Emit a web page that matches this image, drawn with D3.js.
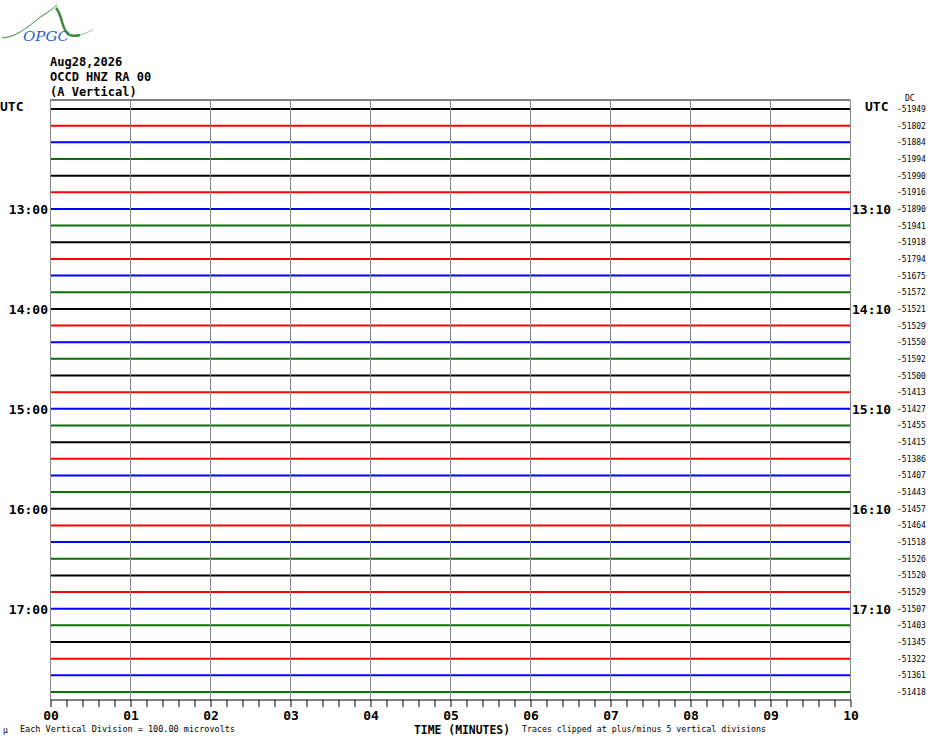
<!DOCTYPE html>
<html lang="en">
<head>
  <meta charset="UTF-8">
  <title>OCCD HNZ helicorder</title>
  <style>
    body { margin: 0; background: #fff; }
    svg { display: block; }
    .mono { font-family: "DejaVu Sans Mono", "Liberation Mono", monospace; }
    .hour { font-family: "DejaVu Sans Mono", monospace; font-weight: bold; font-size: 13px; }
    .small { font-family: "DejaVu Sans Mono", monospace; font-size: 8px; }
  </style>
</head>
<body>
  <div id="chart"></div>
  <script src="https://d3js.org/d3.v7.min.js"></script>
  <script>
    // one trace per 10 minutes, starting 12:00 UTC
    const traceColors = ["#000000", "#ff0000", "#0000ff", "#0a700a"];
    const dcValues = [
      -51949, -51802, -51884, -51994, -51990, -51916,
      -51890, -51941, -51918, -51794, -51675, -51572,
      -51521, -51529, -51550, -51592, -51500, -51413,
      -51427, -51455, -51415, -51386, -51407, -51443,
      -51457, -51464, -51518, -51526, -51520, -51529,
      -51507, -51403, -51345, -51322, -51361, -51418
    ];
    const hourLabelsLeft = ["13:00", "14:00", "15:00", "16:00", "17:00"];
    const hourLabelsRight = ["13:10", "14:10", "15:10", "16:10", "17:10"];
    const minuteLabels = ["00", "01", "02", "03", "04", "05", "06", "07", "08", "09", "10"];
    const headerLines = ["Aug28,2026", "OCCD HNZ RA 00", "(A Vertical)"];

    const width = 930, height = 744;
    const svg = d3.select("#chart").append("svg")
      .attr("width", width)
      .attr("height", height);

    const x = d3.scaleLinear().domain([0, 10]).range([50, 850]);
    const y = d3.scaleLinear().domain([0, dcValues.length - 1]).range([109, 692]);
    const plotTop = 100, plotBottom = 700;

    // logo
    const logo = svg.append("g");
    logo.append("path")
      .attr("d", "M2,38 C20,37 32,22 45,14 C51,10 55,7 57,5")
      .attr("fill", "none").attr("stroke", "#3a8a3a").attr("stroke-width", 1);
    logo.append("path")
      .attr("d", "M56,8 C62,14 62,30 68,34 C72,37 76,36 80,35")
      .attr("fill", "none").attr("stroke", "#3a8a3a").attr("stroke-width", 2.5);
    logo.append("path")
      .attr("d", "M80,35 C84,34 88,32 93,30")
      .attr("fill", "none").attr("stroke", "#9cc79c").attr("stroke-width", 1);
    logo.append("text")
      .attr("x", 23).attr("y", 41)
      .attr("font-family", "DejaVu Serif, serif")
      .attr("font-style", "italic")
      .attr("font-size", 13)
      .attr("fill", "#2b5fd9")
      .attr("textLength", 46)
      .attr("lengthAdjust", "spacingAndGlyphs")
      .text("OPGC");

    // header
    svg.append("g").selectAll("text")
      .data(headerLines)
      .join("text")
      .attr("class", "mono")
      .attr("x", 50)
      .attr("y", (d, i) => 66 + i * 15)
      .attr("font-size", 12)
      .attr("font-weight", "bold")
      .text(d => d);

    // traces (drawn flat at their DC offset)
    svg.append("g").selectAll("line")
      .data(dcValues)
      .join("line")
      .attr("x1", x(0)).attr("x2", x(10))
      .attr("y1", (d, i) => y(i)).attr("y2", (d, i) => y(i))
      .attr("stroke", (d, i) => traceColors[i % 4])
      .attr("stroke-width", 2);

    // top border
    svg.append("line")
      .attr("x1", x(0)).attr("x2", x(10))
      .attr("y1", plotTop).attr("y2", plotTop)
      .attr("stroke", "#000").attr("stroke-width", 1);

    // minute grid
    svg.append("g").selectAll("line")
      .data(d3.range(0, 11))
      .join("line")
      .attr("x1", d => x(d) + 0.5).attr("x2", d => x(d) + 0.5)
      .attr("y1", plotTop).attr("y2", plotBottom)
      .attr("stroke", "#888").attr("stroke-width", 1);

    // bottom axis
    const axis = d3.axisBottom(x)
      .tickValues(d3.range(0, 10.01, 0.2))
      .tickSize(7)
      .tickFormat("");
    const ax = svg.append("g")
      .attr("transform", `translate(0.5,${plotBottom})`)
      .call(axis);
    ax.select(".domain").attr("stroke", "#000").attr("d", `M${x(0)},0H${x(10)}`);
    ax.selectAll(".tick line").attr("stroke", "#000");

    svg.append("g").selectAll("text")
      .data(minuteLabels)
      .join("text")
      .attr("class", "hour")
      .attr("x", (d, i) => x(i) + 1)
      .attr("y", 720)
      .attr("font-size", 12)
      .attr("text-anchor", "middle")
      .text(d => d);

    // UTC labels
    svg.append("text").attr("class", "hour").attr("x", 0).attr("y", 111).attr("font-size", 12).text("UTC");
    svg.append("text").attr("class", "hour").attr("x", 865).attr("y", 111).attr("font-size", 12).text("UTC");
    svg.append("text").attr("class", "small").attr("x", 905).attr("y", 101).attr("font-size", 7).text("DC");

    svg.append("g").selectAll("text")
      .data(hourLabelsLeft)
      .join("text")
      .attr("class", "hour")
      .attr("x", 48)
      .attr("y", (d, i) => y(6 + i * 6) + 5)
      .attr("text-anchor", "end")
      .text(d => d);

    svg.append("g").selectAll("text")
      .data(hourLabelsRight)
      .join("text")
      .attr("class", "hour")
      .attr("x", 852)
      .attr("y", (d, i) => y(6 + i * 6) + 5)
      .text(d => d);

    // DC values on the right
    svg.append("g").selectAll("text")
      .data(dcValues)
      .join("text")
      .attr("class", "small")
      .attr("x", 897)
      .attr("y", (d, i) => y(i) + 3)
      .text(d => "-" + Math.abs(d));

    // footer
    svg.append("text").attr("class", "small").attr("x", 3).attr("y", 733).attr("font-size", 6).text("\u00b5");
    svg.append("text").attr("class", "small").attr("x", 20).attr("y", 732)
      .attr("textLength", 215).attr("lengthAdjust", "spacingAndGlyphs")
      .text("Each Vertical Division =  100.00 microvolts");
    svg.append("text").attr("class", "hour").attr("x", 414).attr("y", 734).attr("font-size", 11)
      .attr("textLength", 96).attr("lengthAdjust", "spacingAndGlyphs")
      .text("TIME (MINUTES)");
    svg.append("text").attr("class", "small").attr("x", 522).attr("y", 732)
      .attr("textLength", 244).attr("lengthAdjust", "spacingAndGlyphs")
      .text("Traces clipped at plus/minus 5 vertical divisions");
  </script>
</body>
</html>
